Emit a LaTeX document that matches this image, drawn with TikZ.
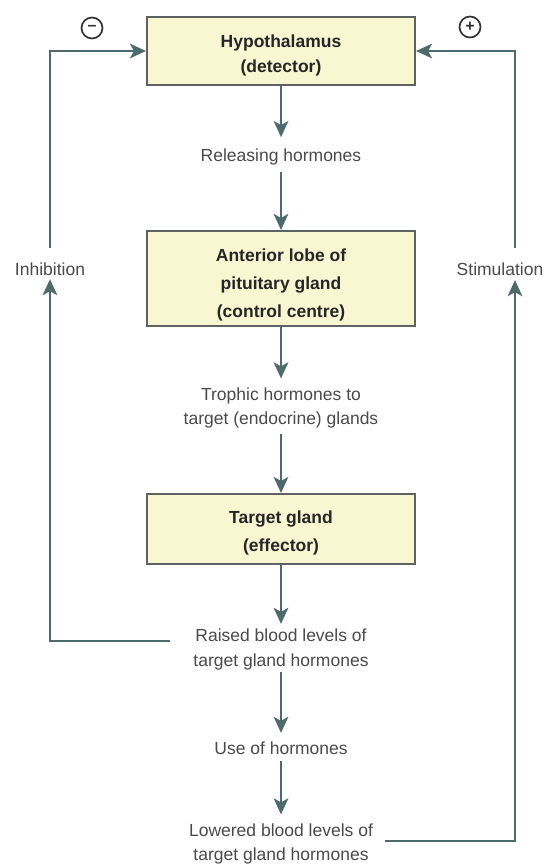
\documentclass[tikz,border=0pt]{standalone}
\usepackage{fontspec}
\setmainfont{Liberation Sans}
\usetikzlibrary{arrows.meta}
\definecolor{arrowc}{HTML}{4E6B6B}
\definecolor{boxfill}{HTML}{F9F7D2}
\definecolor{boxline}{HTML}{5E6262}
\definecolor{labc}{HTML}{4A4A4A}
\begin{document}
\begin{tikzpicture}[x=1pt,y=-1pt,
  box/.style={draw=boxline, line width=2pt, fill=boxfill, minimum width=268pt, align=center,
    font=\fontsize{17.5}{28}\selectfont\bfseries, text=black!85, inner sep=0pt},
  lab/.style={align=center, font=\fontsize{17.5}{24.5}\selectfont, text=labc, inner sep=0pt},
  arr/.style={draw=arrowc, line width=2.7pt, -{Stealth[length=16pt,width=14.5pt,inset=4pt]}},
  sign/.style={circle, draw=black!80, line width=1.7pt, minimum size=21pt, inner sep=0pt,
    font=\fontsize{16}{16}\selectfont\bfseries, text=black!80}]
\useasboundingbox (0,0) rectangle (553,864);
\fill[white] (0,0) rectangle (553,864);
% boxes
\node[box, minimum height=68pt, font=\fontsize{17.5}{25}\selectfont\bfseries] (hyp) at (281,51)
  {\rule{0pt}{21.7pt}Hypothalamus\\(detector)};
\node[box, minimum height=95pt] (ant) at (281,278.5)
  {\rule{0pt}{24.7pt}Anterior lobe of\\pituitary gland\\(control centre)};
\node[box, minimum height=70pt] (tgt) at (281,529)
  {\rule{0pt}{19.7pt}Target gland\\(effector)};
% labels
\node[lab] (rel) at (281,156.5) {Releasing hormones};
\node[lab] (tro) at (281,408) {Trophic hormones to\\target (endocrine) glands};
\node[lab] (rai) at (281,649.5) {Raised blood levels of\\target gland hormones};
\node[lab] (use) at (281,748.5) {Use of hormones};
\node[lab] (low) at (281,844) {Lowered blood levels of\\target gland hormones};
\node[lab] (inh) at (50,269.5) {Inhibition};
\node[lab] (sti) at (500,269.5) {Stimulation};
% signs
\node[sign] (minus) at (92,28) {\raisebox{1pt}{–}};
\node[sign] (plus) at (470,27) {+};
% coordinates for feedback lines
\coordinate (rl) at (170,641);
\coordinate (rr) at (385,841);
% main chain
\draw[arr, shorten >=11pt] (hyp.south) -- (rel.north);
\draw[arr, shorten <=7pt] (rel.south) -- (ant.north);
\draw[arr, shorten >=9pt] (ant.south) -- (tro.north);
\draw[arr, shorten <=5pt] (tro.south) -- (tgt.north);
\draw[arr, shorten >=5pt] (tgt.south) -- (rai.north);
\draw[arr, shorten <=2pt, shorten >=9pt] (rai.south) -- (use.north);
\draw[arr, shorten <=6pt, shorten >=9pt] (use.south) -- (low.north);
% feedback left
\draw[arr, shorten >=3pt] (rl) -| (inh.south);
\draw[arr, shorten <=15pt] (inh.north) |- (hyp.west);
% feedback right
\draw[arr, shorten >=4pt] (rr) -| ([xshift=15pt]sti.south);
\draw[arr, shorten <=15pt] ([xshift=15pt]sti.north) |- (hyp.east);
\end{tikzpicture}
\end{document}
